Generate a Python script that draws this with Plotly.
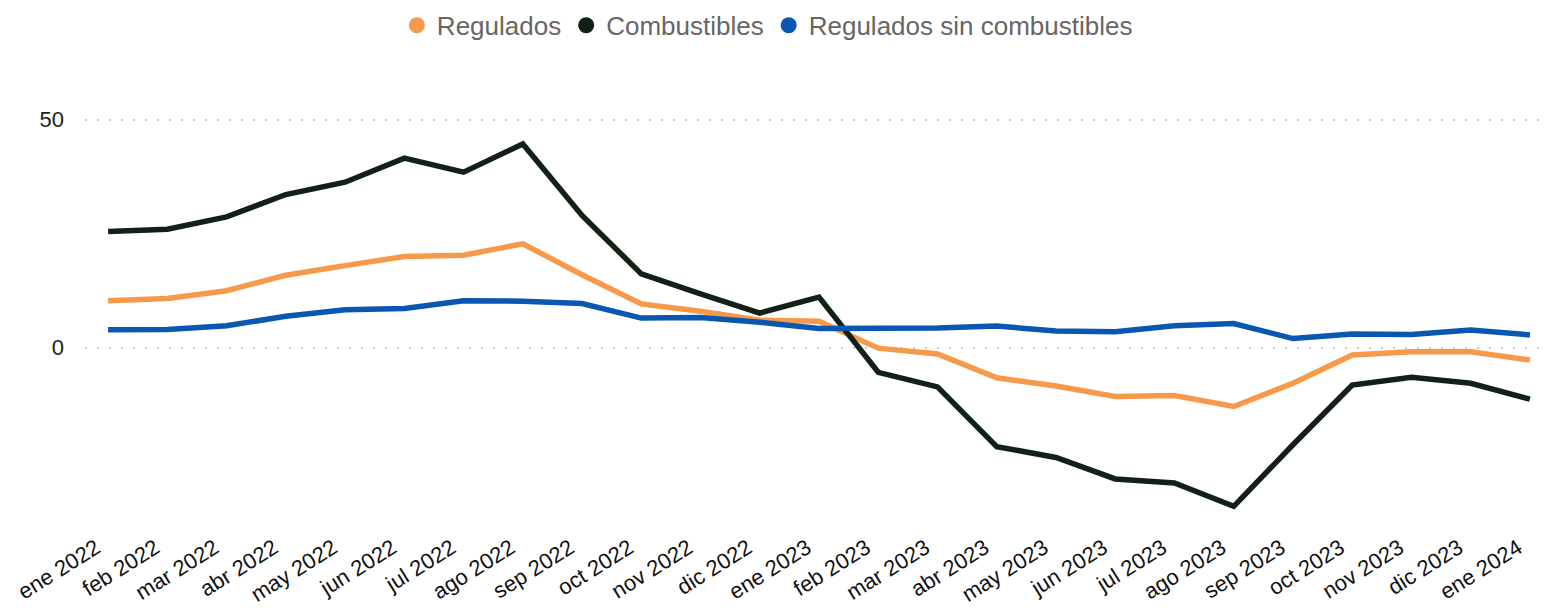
import plotly.graph_objects as go

months = ["ene 2022", "feb 2022", "mar 2022", "abr 2022", "may 2022", "jun 2022",
          "jul 2022", "ago 2022", "sep 2022", "oct 2022", "nov 2022", "dic 2022",
          "ene 2023", "feb 2023", "mar 2023", "abr 2023", "may 2023", "jun 2023",
          "jul 2023", "ago 2023", "sep 2023", "oct 2023", "nov 2023", "dic 2023",
          "ene 2024"]

regulados = [10.3, 10.8, 12.5, 15.9, 18.0, 20.0, 20.3, 22.8, 16.0, 9.6, 8.0, 6.0,
             5.8, -0.1, -1.4, -6.6, -8.4, -10.7, -10.5, -12.9, -7.8, -1.6, -0.9, -0.9,
             -2.7]
combustibles = [25.5, 26.0, 28.7, 33.6, 36.3, 41.6, 38.5, 44.7, 29.0, 16.2, 11.8, 7.6,
                11.1, -5.4, -8.6, -21.7, -24.1, -28.8, -29.7, -34.8, -21.3, -8.2, -6.5,
                -7.8, -11.3]
regulados_sin_comb = [3.95, 4.0, 4.8, 6.9, 8.3, 8.6, 10.3, 10.2, 9.7, 6.5, 6.6, 5.6,
                      4.2, 4.3, 4.3, 4.75, 3.65, 3.5, 4.8, 5.3, 2.0, 3.0, 2.9, 3.9, 2.8]

y_ticks = [0, 50]

series = [
    ("Regulados", regulados, "#F7994A"),
    ("Combustibles", combustibles, "#122116"),
    ("Regulados sin combustibles", regulados_sin_comb, "#0A57B2"),
]

x = list(range(len(months)))
fig = go.Figure()

for name, vals, color in series:
    fig.add_trace(go.Scatter(
        x=x, y=vals, mode="lines", name=name,
        line=dict(color=color, width=5.5),
        showlegend=False, hoverinfo="skip",
    ))

# legend entries drawn as round dots
for name, vals, color in series:
    fig.add_trace(go.Scatter(
        x=[None], y=[None], mode="markers", name=name,
        marker=dict(color=color, size=20, symbol="circle"),
        showlegend=True,
    ))

fig.update_layout(
    width=1544, height=611,
    margin=dict(l=85, r=4, t=97, b=81),
    paper_bgcolor="white", plot_bgcolor="white",
    font=dict(family="Liberation Sans, Arial, sans-serif", color="#222222"),
    showlegend=True,
    legend=dict(
        orientation="h", x=0.497, xanchor="center", xref="container",
        y=0.997, yanchor="top", yref="container",
        font=dict(size=26, color="#666666"),
        itemwidth=30, tracegroupgap=0,
    ),
    xaxis=dict(
        range=[-0.39, 24.17],
        tickmode="array", tickvals=x, ticktext=months,
        tickangle=-32,
        tickfont=dict(size=22, color="#111111"),
        ticklabelshift=-12,
        automargin=False,
        showgrid=False, zeroline=False, showline=False, ticks="",
    ),
    yaxis=dict(
        range=[-40, 55],
        tickmode="array", tickvals=y_ticks,
        tickfont=dict(size=22, color="#222222"),
        showgrid=True, gridcolor="#c8c8c8", griddash="2px,10px", gridwidth=2,
        zeroline=False, showline=False, ticks="",
        ticklabelstandoff=20, automargin=False,
    ),
)

fig.write_html("out.html")
